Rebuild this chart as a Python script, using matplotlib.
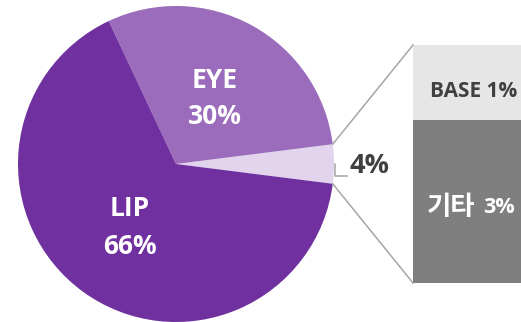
import numpy as np
import matplotlib.pyplot as plt

plt.rcParams['font.family'] = ['Open Sans', 'Noto Sans CJK KR', 'DejaVu Sans']

# Données
pie_labels = ['기타', 'EYE', 'LIP']
pie_values = [4, 30, 66]
pie_colors = ['#E1D4EC', '#9A6CBB', '#7030A0']

bar_labels = ['기타 3%', 'BASE 1%']
bar_values = [2.74, 1.26]
bar_colors = ['#7F7F7F', '#E6E6E6']

fig = plt.figure(figsize=(5.21, 3.22), dpi=100)
ax = fig.add_axes([0, 0, 1, 1])

# Camembert
cx, cy, r = 176, 158, 158
start = -pie_values[0] / 100 * 360 / 2
ax.pie(pie_values, colors=pie_colors, startangle=start, counterclock=True,
       center=(cx, cy), radius=r, frame=True,
       wedgeprops=dict(linewidth=0))
ax.set_xlim(0, 521)
ax.set_ylim(0, 322)
ax.set_aspect('equal')
ax.axis('off')

# Barre empilée
bx, bw = 413, 112
b0, btot = 39, 238
scale = btot / sum(bar_values)
bottom = b0
for val, col, lab in zip(bar_values, bar_colors, bar_labels):
    h = val * scale
    ax.bar(bx, h, width=bw, bottom=bottom, color=col, align='edge',
           linewidth=0)
    tc = 'white' if col == '#7F7F7F' else '#404040'
    ym = bottom + h / 2 - 9
    name, pct = lab.split()
    if name.isascii():
        ax.text(bx + 61, ym, lab, color=tc, fontsize=15,
                fontweight='bold', ha='center', va='center')
    else:
        # nom coréen plus grand
        ax.text(bx + 62, ym + 3, name, color=tc, fontsize=19,
                fontweight='bold', ha='right', va='center')
        ax.text(bx + 70, ym + 3, pct, color=tc, fontsize=15.5,
                fontweight='bold', ha='left', va='center')
    bottom += h

# Lignes de liaison
a = np.deg2rad(-start)
p_top = (cx + r * np.cos(a), cy + r * np.sin(a))
p_bot = (cx + r * np.cos(a), cy - r * np.sin(a))
ax.plot([p_top[0], bx], [p_top[1], b0 + btot], color='#A6A6A6', lw=1.1)
ax.plot([p_bot[0], bx], [p_bot[1], b0], color='#A6A6A6', lw=1.1)

# Étiquettes
lab_kw = dict(color='white', fontsize=19, fontweight='bold',
              ha='center', va='center')
ax.text(215, 242, 'EYE', **lab_kw)
ax.text(215, 206, '30%', **lab_kw)
ax.text(130, 114, 'LIP', **lab_kw)
ax.text(130, 75, '66%', **lab_kw)
ax.plot([335, 335, 347], [158, 146, 146], color='#A6A6A6', lw=1.1)
ax.text(350, 156, '4%', color='#404040', fontsize=19.5, fontweight='bold',
        ha='left', va='center')

fig.savefig('out.png', dpi=100)
